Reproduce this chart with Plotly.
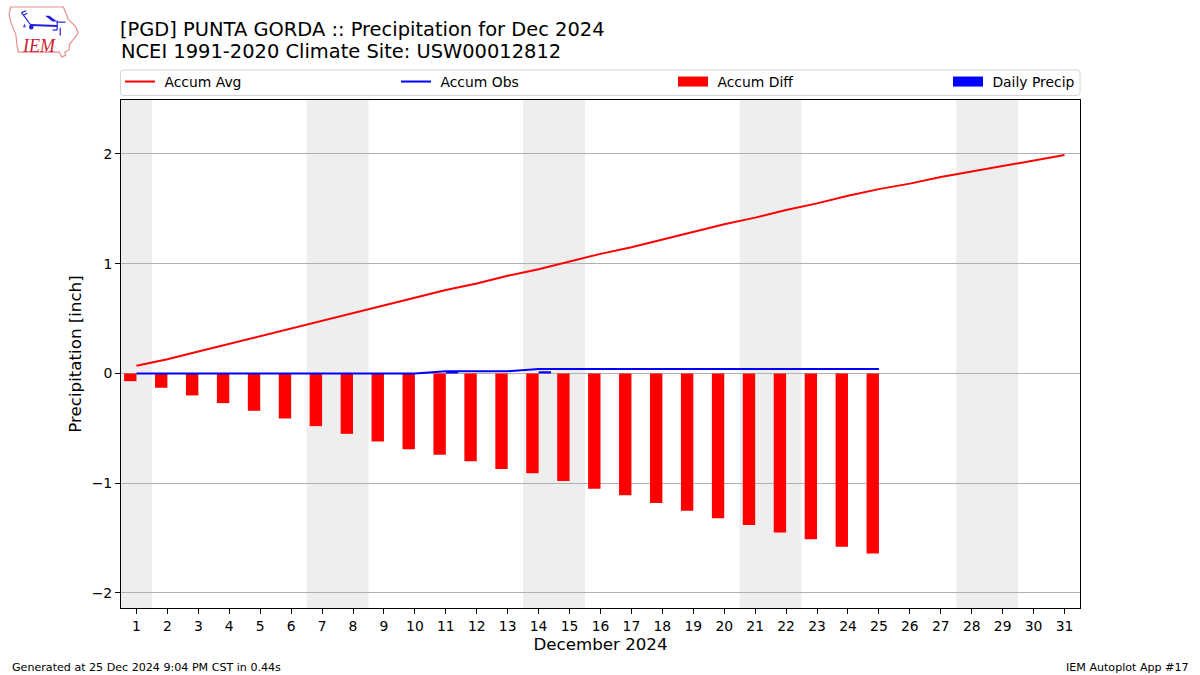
import plotly.graph_objects as go

W, H = 1200, 675
days = list(range(1, 32))
accum_avg = [0.07, 0.13, 0.20, 0.27, 0.34, 0.41, 0.48, 0.55, 0.62, 0.69, 0.76, 0.82, 0.89, 0.95, 1.02, 1.09,
             1.15, 1.22, 1.29, 1.36, 1.42, 1.49, 1.55, 1.62, 1.68, 1.73, 1.79, 1.84, 1.89, 1.94, 1.99]
obs_days = list(range(1, 26))
accum_obs = [0, 0, 0, 0, 0, 0, 0, 0, 0, 0, 0.02, 0.02, 0.02, 0.04, 0.04, 0.04, 0.04, 0.04, 0.04, 0.04,
             0.04, 0.04, 0.04, 0.04, 0.04]
accum_diff = [-0.07, -0.13, -0.20, -0.27, -0.34, -0.41, -0.48, -0.55, -0.62, -0.69, -0.74, -0.80, -0.87, -0.91,
              -0.98, -1.05, -1.11, -1.18, -1.25, -1.32, -1.38, -1.45, -1.51, -1.58, -1.64]
daily_precip = [0, 0, 0, 0, 0, 0, 0, 0, 0, 0, 0.02, 0, 0, 0.02, 0, 0, 0, 0, 0, 0, 0, 0, 0, 0, 0]
weekends = [(0.5, 1.5), (6.5, 8.5), (13.5, 15.5), (20.5, 22.5), (27.5, 29.5)]
y_ticks = [-2, -1, 0, 1, 2]
FONT = "DejaVu Sans"
PL, PR, PT, PB = 121, 1080, 100, 608

def px(x): return (x - PL) / (PR - PL)
def py(y): return (PB - y) / (PB - PT)
def path(points, close=False):
    s = "M" + " L".join(f"{px(a):.5f},{py(b):.5f}" for a, b in points)
    return s + (" Z" if close else "")
def logo(points):
    return [(6 + a * 0.31, 3.2 + b * 0.316) for a, b in points]

fig = go.Figure()
fig.add_trace(go.Scatter(x=days, y=accum_avg, mode="lines", name="\u00a0Accum Avg", legend="legend",
                         line=dict(color="#ff0000", width=2)))
fig.add_trace(go.Scatter(x=obs_days, y=accum_obs, mode="lines", name="\u00a0Accum Obs", legend="legend2",
                         line=dict(color="#0000ff", width=2)))
fig.add_trace(go.Bar(x=obs_days, y=accum_diff, width=0.4, offset=-0.4, marker=dict(color="#ff0000", line_width=0),
                     showlegend=False, name="Accum Diff"))
fig.add_trace(go.Bar(x=obs_days, y=daily_precip, width=0.4, offset=0, marker=dict(color="#0000ff", line_width=0),
                     showlegend=False, name="Daily Precip"))
fig.add_trace(go.Scatter(x=[None], y=[None], mode="lines", name="\u00a0Accum Diff", legend="legend3",
                         line=dict(color="#ff0000", width=10)))
fig.add_trace(go.Scatter(x=[None], y=[None], mode="lines", name="\u00a0Daily Precip", legend="legend4",
                         line=dict(color="#0000ff", width=10)))

shapes = [dict(type="rect", xref="x", yref="paper", x0=a, x1=b, y0=0, y1=1, layer="below",
               fillcolor="#eeeeee", line_width=0) for a, b in weekends]
# rounded legend frame
L, R, T, B, r = 120.5, 1080, 70, 95.5, 3
shapes.append(dict(type="path", xref="paper", yref="paper", line=dict(color="#d4d4d4", width=1),
                   path=f"M{px(L+r)},{py(T)} L{px(R-r)},{py(T)} Q{px(R)},{py(T)} {px(R)},{py(T+r)} L{px(R)},{py(B-r)} "
                        f"Q{px(R)},{py(B)} {px(R-r)},{py(B)} L{px(L+r)},{py(B)} Q{px(L)},{py(B)} {px(L)},{py(B-r)} "
                        f"L{px(L)},{py(T+r)} Q{px(L)},{py(T)} {px(L+r)},{py(T)} Z"))
# IEM logo
outline = logo([(15, 12), (185, 12), (195, 35), (200, 50), (225, 75), (233, 95), (215, 118), (205, 130), (203, 148),
                (190, 155), (192, 165), (180, 170), (172, 155), (40, 155), (35, 130), (32, 100), (15, 60), (10, 35)])
shapes.append(dict(type="path", xref="paper", yref="paper", path=path(outline, True),
                   line=dict(color="#e59090", width=1.2)))
for seg, w in [([(80, 69), (165, 72)], 2), ([(80, 69), (50, 30)], 1.2), ([(50, 30), (65, 24)], 1.2),
               ([(56, 38), (69, 32)], 1.2), ([(165, 55), (165, 85)], 1.2), ([(165, 85), (150, 85)], 1.2),
               ([(175, 78), (175, 102)], 1.2), ([(165, 60), (192, 60)], 1.2)]:
    shapes.append(dict(type="path", xref="paper", yref="paper", path=path(logo(seg)), line=dict(color="#2020d8", width=w)))
shapes.append(dict(type="path", xref="paper", yref="paper", path=path(logo([(126, 40), (140, 40), (165, 58), (150, 58)]), True),
                   fillcolor="#2020d8", line_width=0))
shapes.append(dict(type="circle", xref="paper", yref="paper", x0=px(29), x1=px(33.5), y0=py(29.5), y1=py(24.5),
                   fillcolor="#2020d8", line_width=0))
shapes.append(dict(type="path", xref="paper", yref="paper", path=path(logo([(60, 64), (65, 76), (54, 76)]), True),
                   fillcolor="#5050d8", line_width=0))

annotations = [
    dict(text="<i>IEM</i>", x=px(20), y=py(46), xref="paper", yref="paper", xanchor="left", yanchor="middle", showarrow=False,
         font=dict(family="Liberation Serif", size=18, color="#d02030")),
    dict(text="NCEI 1991-2020 Climate Site: USW00012812", x=px(119), y=py(52), xref="paper", yref="paper",
         xanchor="left", yanchor="middle", showarrow=False, font=dict(family=FONT, size=19.44, color="#000000")),
    dict(text="Generated at 25 Dec 2024 9:04 PM CST in 0.44s", x=px(10), y=py(667), xref="paper", yref="paper",
         xanchor="left", yanchor="middle", showarrow=False, font=dict(family=FONT, size=11.1, color="#000000")),
    dict(text="IEM Autoplot App #17", x=px(1191), y=py(667), xref="paper", yref="paper",
         xanchor="right", yanchor="middle", showarrow=False, font=dict(family=FONT, size=11.1, color="#000000")),
]
def leg(x):
    return dict(orientation="h", x=px(x), y=py(66), xanchor="left", yanchor="top", itemwidth=30,
                bgcolor="rgba(0,0,0,0)", borderwidth=0, font=dict(family=FONT, size=13.9))

fig.update_layout(
    width=W, height=H, autosize=False, template=None, paper_bgcolor="white", plot_bgcolor="white",
    font=dict(family=FONT, size=13.9, color="#000000"),
    margin=dict(l=PL, r=W - PR, t=PT, b=H - PB, pad=0),
    barmode="overlay", shapes=shapes, annotations=annotations,
    title=dict(text="[PGD] PUNTA GORDA :: Precipitation for Dec 2024", x=120 / W, xanchor="left", xref="container",
               y=1 - 22 / H, yanchor="top", yref="container", pad=dict(t=0, b=0, l=0, r=0), font=dict(family=FONT, size=19.44)),
    legend=leg(120), legend2=leg(396), legend3=leg(673), legend4=leg(948),
    xaxis=dict(range=[0.5, 31.5], tickmode="array", tickvals=days, ticktext=[str(d) for d in days], ticks="outside",
               ticklen=5, tickwidth=1, tickcolor="#000", showgrid=False, zeroline=False, showline=True, mirror=True,
               linecolor="#000", linewidth=1, tickfont=dict(size=13.9), title=dict(text="December 2024", font=dict(size=16.67), standoff=5)),
    yaxis=dict(range=[-2.137, 2.492], tickmode="array", tickvals=y_ticks, ticktext=["\u22122", "\u22121", "0", "1", "2"],
               ticks="outside", ticklen=5, tickwidth=1, tickcolor="#000", showgrid=True, gridcolor="#b0b0b0", gridwidth=1,
               zeroline=False, showline=True, mirror=True, linecolor="#000", linewidth=1, tickfont=dict(size=13.9),
               title=dict(text="Precipitation [inch]", font=dict(size=16.67), standoff=5)),
)
fig.write_html("out.html", config=dict(displayModeBar=False), post_script="document.body.style.margin='0';")
